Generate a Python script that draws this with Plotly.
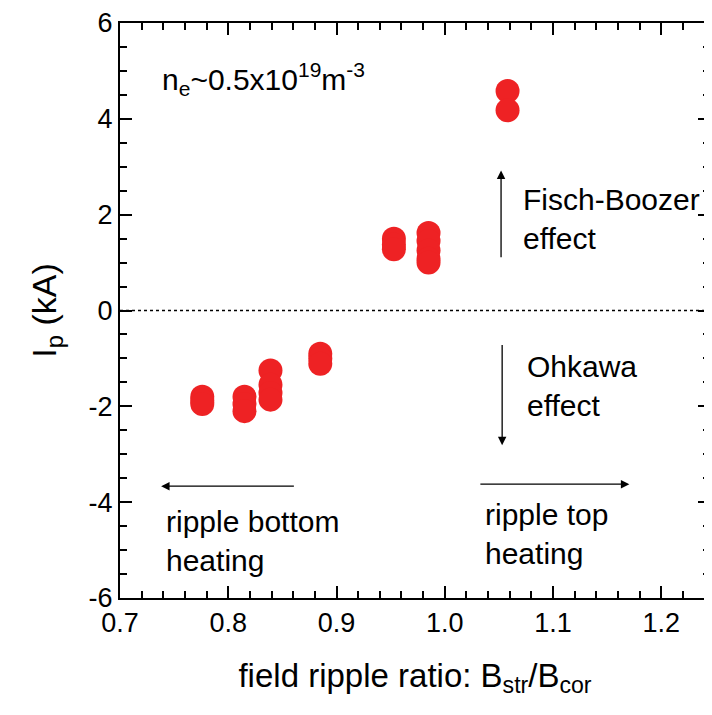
import plotly.graph_objects as go

# Data
ripple_ratio = [0.776, 0.776, 0.776,
                0.815, 0.815, 0.815,
                0.839, 0.839, 0.839, 0.839,
                0.885, 0.885, 0.885,
                0.953, 0.953, 0.953,
                0.985, 0.985, 0.985, 0.985, 0.985,
                1.058, 1.058]
ip_kA = [-1.80, -1.88, -1.95,
         -1.80, -1.95, -2.10,
         -1.25, -1.55, -1.72, -1.86,
         -0.90, -1.00, -1.11,
         1.50, 1.38, 1.28,
         1.62, 1.45, 1.25, 1.08, 1.00,
         4.58, 4.18]

x_ticks = [0.7, 0.8, 0.9, 1.0, 1.1, 1.2]
x_tick_labels = ["0.7", "0.8", "0.9", "1.0", "1.1", "1.2"]
y_ticks = [-6, -4, -2, 0, 2, 4, 6]
y_tick_labels = ["-6", "-4", "-2", "0", "2", "4", "6"]

FONT = "Liberation Sans, Arial, sans-serif"
RED = "#EE2224"

fig = go.Figure()
fig.add_trace(go.Scatter(
    x=ripple_ratio, y=ip_kA, mode="markers",
    marker=dict(size=24, color=RED, line=dict(width=0)),
    showlegend=False, hoverinfo="skip", cliponaxis=False))

axis_common = dict(
    showline=True, linecolor="black", linewidth=2, mirror="ticks",
    ticks="inside", ticklen=12, tickwidth=2, tickcolor="black",
    showgrid=False, zeroline=False, ticklabeloverflow="allow",
    tickfont=dict(family=FONT, size=27, color="black"),
)

fig.update_xaxes(
    range=[0.7, 1.245], tickvals=x_ticks, ticktext=x_tick_labels,
    minor=dict(ticks="inside", ticklen=7, tickwidth=2, tickcolor="black", dtick=0.02, tick0=0.7),
    title=dict(text="field ripple ratio: B<sub>str</sub>/B<sub>cor</sub>",
               font=dict(family=FONT, size=33, color="black"), standoff=26),
    **axis_common)
fig.update_yaxes(
    range=[-6, 6], tickvals=y_ticks, ticktext=y_tick_labels,
    minor=dict(ticks="inside", ticklen=7, tickwidth=2, tickcolor="black", dtick=0.5, tick0=0),
    title=dict(text="I<sub>p</sub> (kA)",
               font=dict(family=FONT, size=34, color="black"), standoff=22),
    **axis_common)

# dotted zero line
fig.add_shape(type="line", xref="paper", yref="y", x0=0, x1=1, y0=0, y1=0,
              line=dict(color="black", width=1.5, dash="dot"))

# arrows: (tail_x, tail_y, tip_x, tip_y)
arrows = [
    (1.052, 1.08, 1.052, 2.92),
    (1.053, -0.69, 1.053, -2.81),
    (1.0315, -3.625, 1.1705, -3.625),
    (0.862, -3.667, 0.738, -3.667),
]
for tx, ty, hx, hy in arrows:
    fig.add_annotation(x=hx, y=hy, ax=tx, ay=ty, xref="x", yref="y",
                       axref="x", ayref="y", text="", showarrow=True,
                       arrowhead=2, arrowsize=1.3, arrowwidth=1.3, arrowcolor="black")

# texts: (x, y, text)
labels = [
    (0.7368, 4.83, "n<sub>e</sub>~0.5x10<sup>19</sup>m<sup>-3</sup>"),
    (1.070, 1.92, "Fisch-Boozer<br>effect"),
    (1.0745, -1.58, "Ohkawa<br>effect"),
    (1.035, -4.67, "ripple top<br>heating"),
    (0.7405, -4.81, "ripple bottom<br>heating"),
]
for lx, ly, txt in labels:
    fig.add_annotation(x=lx, y=ly, xref="x", yref="y", text=txt, showarrow=False,
                       xanchor="left", yanchor="middle", align="left",
                       font=dict(family=FONT, size=30, color="black"))

fig.update_layout(
    width=704, height=707,
    margin=dict(l=112, r=0, t=14, b=117),
    plot_bgcolor="white", paper_bgcolor="white",
)

fig.write_html("out.html")
